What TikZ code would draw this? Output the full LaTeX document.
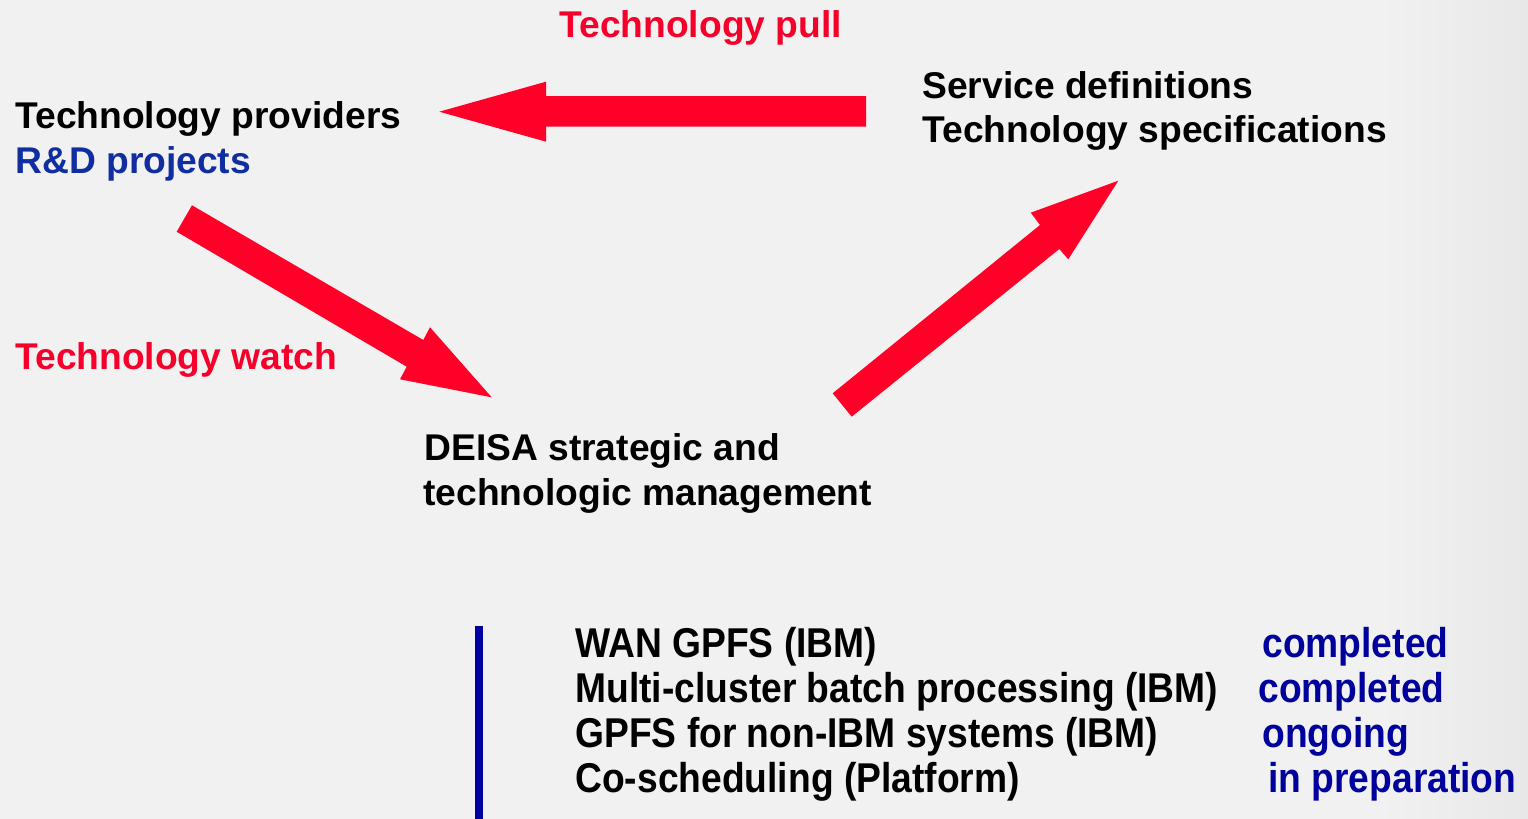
\documentclass[tikz,border=0pt]{standalone}
\usepackage{fontspec}
\setmainfont{Liberation Sans}
\definecolor{bgcol}{RGB}{241,241,241}
\definecolor{bgedge}{RGB}{232,232,232}
\definecolor{arrred}{RGB}{255,0,41}
\definecolor{txtred}{RGB}{245,0,42}
\definecolor{rdblue}{RGB}{16,46,160}
\definecolor{stblue}{RGB}{0,0,156}
\definecolor{barblue}{RGB}{0,0,160}
\tikzset{
  lbl/.style={inner sep=0pt, anchor=base west, font=\fontsize{18.6pt}{22.5pt}\selectfont\bfseries},
  lst/.style={lbl},
  blockarrow/.style={fill=arrred, draw=none},
}
\newcommand{\tall}[1]{\scalebox{1}[1.12]{#1}}
\begin{document}
\begin{tikzpicture}[x=0.5pt, y=-0.5pt]
\useasboundingbox (0,0) rectangle (1528,819);
\fill[bgcol] (0,0) rectangle (1528,819);
\shade[left color=bgcol, right color=bgedge, draw=none] (1380,0) rectangle (1528,819);

% text nodes
\node[lbl, text=txtred] (pull) at (559,38) {Technology pull};
\node[lbl] (prov) at (15,128.5) {Technology providers};
\node[lbl, text=rdblue] (rd) at (15,173.5) {R\&D projects};
\node[lbl] (serv) at (922,98) {Service definitions};
\node[lbl] (spec) at (922,142.5) {Technology specifications};
\node[lbl, text=txtred] (watch) at (15,369) {Technology watch};
\node[lbl] (deisa1) at (424,460) {DEISA strategic and};
\node[lbl] (deisa2) at (423,505) {technologic management};

% list
\node[lst] (l1) at (575,657) {\tall{WAN GPFS (IBM)}};
\node[lst] (l2) at (575,702) {\tall{Multi-cluster batch processing (IBM)}};
\node[lst] (l3) at (575,747) {\tall{GPFS for non-IBM systems (IBM)}};
\node[lst] (l4) at (575,792) {\tall{Co-scheduling (Platform)}};
\node[lst, text=stblue] (s1) at (1262,657) {\tall{completed}};
\node[lst, text=stblue] (s2) at (1258,702) {\tall{completed}};
\node[lst, text=stblue] (s3) at (1262,747) {\tall{ongoing}};
\node[lst, text=stblue] (s4) at (1268,792) {\tall{in preparation}};

% blue bar
\fill[barblue] (475,626) rectangle (483,819);

% block arrows
\fill[blockarrow] (866,96) -- (546,96) -- (546,81.7) -- (439.3,111.7)
  -- (546,141.7) -- (546,126.7) -- (866,126.7) -- cycle;
\fill[blockarrow] (192,205.3) -- (423.3,340) -- (430,327.3) -- (491.7,397.3)
  -- (400,379.3) -- (406.7,366.7) -- (176.7,231.7) -- cycle;
\fill[blockarrow] (832.7,393.3) -- (1040,225) -- (1030.7,212.7) -- (1118.3,180.7)
  -- (1068.3,259.3) -- (1059.3,249) -- (851.7,416.7) -- cycle;
\end{tikzpicture}
\end{document}
